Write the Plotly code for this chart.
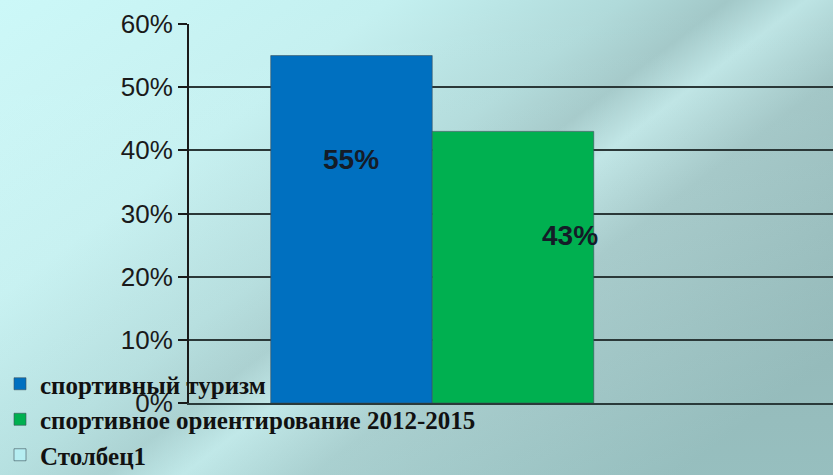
import plotly.graph_objects as go
import base64

# ---- data ----
categories = ["2012-2015"]
series_names = ["спортивный туризм", "спортивное ориентирование 2012-2015", "Столбец1"]
series_values = [0.55, 0.43, None]
series_colors = ["#0070C0", "#00B050", "#B6EEF2"]
value_labels = ["55%", "43%", ""]
y_ticks = [0, 0.1, 0.2, 0.3, 0.4, 0.5, 0.6]
y_tick_labels = ["0%", "10%", "20%", "30%", "40%", "50%", "60%"]

W, H = 833, 475
ML, MR, MT, MB = 189, 0, 24, 72

fig = go.Figure()
for name, val, col in zip(series_names, series_values, series_colors):
    fig.add_trace(go.Bar(
        x=categories, y=[val], name=name,
        marker=dict(color=col, line=dict(color="rgba(60,80,90,0.6)", width=1)),
        hoverinfo="skip",
    ))

# background gradient as svg image
svg = f'''<svg xmlns="http://www.w3.org/2000/svg" width="{W}" height="{H}" viewBox="0 0 {W} {H}" preserveAspectRatio="none">
<defs>
<linearGradient id="g" x1="0" y1="0" x2="1" y2="0.75">
<stop offset="0" stop-color="#ccf8f8"/>
<stop offset="0.3" stop-color="#c4f0f0"/>
<stop offset="0.48" stop-color="#b0dada"/>
<stop offset="0.56" stop-color="#a2c8c8"/>
<stop offset="0.62" stop-color="#bde4e4"/>
<stop offset="0.72" stop-color="#9fc4c4"/>
<stop offset="1" stop-color="#86adad"/>
</linearGradient>
<linearGradient id="h" x1="0" y1="0" x2="0" y2="1">
<stop offset="0" stop-color="#ffffff" stop-opacity="0"/>
<stop offset="1" stop-color="#c8f4f4" stop-opacity="0.25"/>
</linearGradient>
</defs>
<rect width="{W}" height="{H}" fill="url(#g)"/>
<rect width="{W}" height="{H}" fill="url(#h)"/>
</svg>'''
src = "data:image/svg+xml;base64," + base64.b64encode(svg.encode("utf-8")).decode()

pw = W - ML - MR
ph = H - MT - MB
fig.add_layout_image(dict(
    source=src, xref="paper", yref="paper",
    x=-ML / pw, y=1 + MT / ph, sizex=W / pw, sizey=H / ph,
    xanchor="left", yanchor="top", sizing="stretch", layer="below",
))

# value labels
shifts = [-161.5, 57, 0]
for val, lab, xs in zip(series_values, value_labels, shifts):
    if val is None or not lab:
        continue
    fig.add_annotation(
        x=categories[0], y=val, xref="x", yref="y", text=lab, showarrow=False,
        xshift=xs, yshift=-104, yanchor="middle",
        font=dict(family="Liberation Sans, Arial", size=28, color="#141c28", weight="bold"),
    )

fig.update_layout(
    width=W, height=H,
    margin=dict(l=ML, r=MR, t=MT, b=MB, autoexpand=False),
    paper_bgcolor="#bfe8e8",
    plot_bgcolor="rgba(0,0,0,0)",
    barmode="group", bargap=0.25, bargroupgap=0,
    showlegend=True,
    legend=dict(
        xref="container", yref="container", x=0.0, y=1 - 361 / H,
        xanchor="left", yanchor="top",
        bgcolor="rgba(0,0,0,0)",
        font=dict(family="Liberation Serif, Times New Roman", size=25, color="#111111", weight="bold"),
        tracegroupgap=0, itemwidth=30,
    ),
    xaxis=dict(
        range=[-0.5015, 0.4954], showticklabels=False, showgrid=False,
        showline=True, linecolor="#2a3a3a", linewidth=2, ticks="", zeroline=False,
        fixedrange=True,
    ),
    yaxis=dict(
        range=[0, 0.6], tickvals=y_ticks, ticktext=y_tick_labels,
        showgrid=True, gridcolor="#2b3838", gridwidth=2,
        showline=True, linecolor="#1a1a1a", linewidth=2,
        ticks="outside", ticklen=9, tickwidth=2, tickcolor="#1a1a1a",
        zeroline=False,
        tickfont=dict(family="Liberation Sans, Arial", size=26, color="#1a1a1a"),
        fixedrange=True,
    ),
)

fig.write_html("out.html", config={"displayModeBar": False},
               post_script="document.body.style.margin='0';document.body.style.overflow='hidden';")
